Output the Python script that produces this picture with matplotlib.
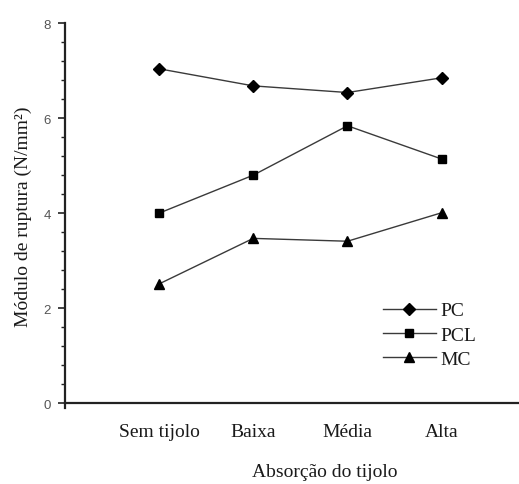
import matplotlib
matplotlib.use("Agg")
import matplotlib.pyplot as plt
from matplotlib.ticker import MultipleLocator

categories = ["Sem tijolo", "Baixa", "Média", "Alta"]
pc = [7.04, 6.68, 6.54, 6.85]
pcl = [4.00, 4.80, 5.84, 5.14]
mc = [2.51, 3.47, 3.41, 4.01]
y_ticks = [0, 2, 4, 6, 8]

SERIF = "Liberation Serif"
LINE = "#3a3a3a"
INK = "#1a1a1a"

fig = plt.figure(figsize=(5.19, 4.85), dpi=100)
ax = fig.add_axes([0.1247, 0.1567, 0.908, 0.7935])

x = list(range(1, len(categories) + 1))
ax.plot(x, pc, color=LINE, lw=1.0, marker="D", ms=6.5, mfc="black", mec="black", label="PC")
ax.plot(x, pcl, color=LINE, lw=1.0, marker="s", ms=5.5, mfc="black", mec="black", label="PCL")
ax.plot(x, mc, color=LINE, lw=1.0, marker="^", ms=6.5, mfc="black", mec="black", label="MC")

ax.set_xlim(0, 5)
ax.set_ylim(-0.1, 8)
ax.spines["bottom"].set_position(("data", 0))
ax.spines["top"].set_visible(False)
ax.spines["right"].set_visible(False)
for s in ("left", "bottom"):
    ax.spines[s].set_color("#222222")
    ax.spines[s].set_linewidth(1.6)
ax.spines["left"].set_bounds(-0.1, 8)

ax.set_xticks(x)
ax.set_xticklabels(categories, fontfamily=SERIF, fontsize=14, color=INK)
ax.tick_params(axis="x", length=0, pad=14)

ax.set_yticks(y_ticks)
ax.set_yticklabels([str(t) for t in y_ticks], fontfamily="Liberation Sans", fontsize=9.5, color="#555555")
ax.yaxis.set_minor_locator(MultipleLocator(0.4))
ax.tick_params(axis="y", which="major", direction="out", length=5, width=1.2, color="#222222", pad=5)
ax.tick_params(axis="y", which="minor", direction="out", length=3, width=1.0, color="#222222")

ax.set_ylabel("Módulo de ruptura (N/mm²)", fontfamily=SERIF, fontsize=14, color=INK)
ax.yaxis.set_label_coords(-0.07, 0.5)
ax.set_xlabel("Absorção do tijolo", fontfamily=SERIF, fontsize=14, color=INK)
ax.xaxis.set_label_coords(0.551, -0.142)

leg = ax.legend(loc="upper left", bbox_to_anchor=(0.659, 0.296), frameon=False,
                handlelength=2.7, handletextpad=0.25, labelspacing=0.33,
                prop={"family": SERIF, "size": 14}, borderaxespad=0)
for t in leg.get_texts():
    t.set_color(INK)

fig.savefig("out.png", dpi=100)
